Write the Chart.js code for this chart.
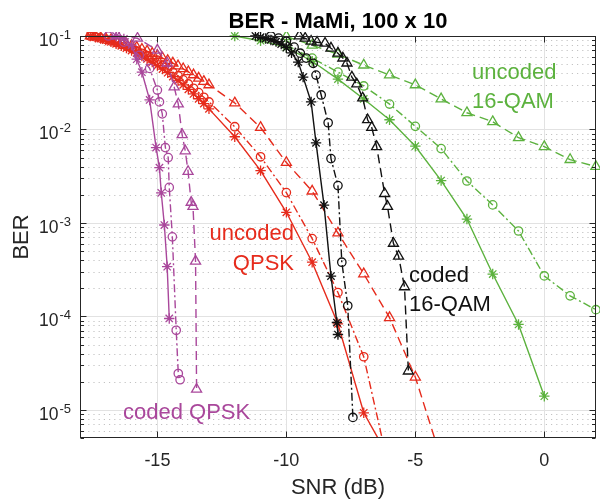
<!DOCTYPE html>
<html>
<head>
<meta charset="utf-8">
<script src="https://cdn.jsdelivr.net/npm/chart.js@4"></script>
<style>
html,body{margin:0;padding:0;background:#fff;}
canvas{display:block;}
</style>
</head>
<body>
<canvas id="c" width="603" height="499"></canvas>
<script>
// ---------- data ----------
// coded QPSK (purple)
const cqStarX = [-16.6, -16.3, -16.0, -15.8, -15.6, -15.3, -15.05, -14.92, -14.85, -14.73, -14.62, -14.54];
const cqStarY = [0.1, 0.093, 0.08, 0.0565, 0.041, 0.0207, 0.0064, 0.0039, 0.0021, 0.00095, 0.00034, 0.000095];
const cqCircX = [-16.9, -16.3, -15.7, -15.3, -15.0, -14.92, -14.81, -14.69, -14.58, -14.54, -14.42, -14.27, -14.19, -14.12];
const cqCircY = [0.1, 0.086, 0.062, 0.045, 0.0264, 0.0197, 0.0147, 0.0064, 0.005, 0.0024, 0.00071, 0.000071, 0.0000245, 0.000021];
const cqTriX = [-16.54, -15.77, -15.0, -14.62, -14.35, -14.19, -14.04, -13.92, -13.81, -13.69, -13.62, -13.52, -13.48];
const cqTriY = [0.1, 0.0945, 0.0705, 0.0513, 0.0285, 0.0187, 0.0088, 0.0059, 0.00355, 0.00166, 0.0015, 0.00039, 0.0000166];

// uncoded QPSK (red)
const uqX = [-17.6,-17.4,-17.2,-17.0,-16.8,-16.6,-16.4,-16.2,-16.0,-15.8,-15.6,-15.4,-15.2,-15.0,-14.8,-14.6,-14.4,-14.2,-14.0,-13.8,-13.6,-13.4,-13.2,-13,-12,-11,-10,-9,-8,-7,-6];
const uqTriX = [-17.6,-17.4,-17.2,-17.0,-16.8,-16.6,-16.4,-16.2,-16.0,-15.8,-15.6,-15.4,-15.2,-15.0,-14.8,-14.6,-14.4,-14.2,-14.0,-13.8,-13.6,-13.4,-13.2,-13,-12,-11,-10,-9,-8,-7,-6,-5,-4];
const uqStarY = [0.1,0.0971,0.0939,0.0904,0.0866,0.0826,0.0785,0.0742,0.0699,0.0655,0.0611,0.0568,0.0525,0.0483,0.0443,0.0405,0.0368,0.0333,0.0300,0.0269,0.0240,0.0213,0.0189,0.0166,0.00836,0.00363,0.0013,0.00038,0.000083,0.0000093,0.000003];
const uqCircY = [0.1,0.0977,0.0950,0.0919,0.0886,0.0851,0.0813,0.0774,0.0734,0.0692,0.0651,0.0609,0.0567,0.0526,0.0486,0.0447,0.0410,0.0374,0.0339,0.0307,0.0276,0.0248,0.0221,0.0197,0.0107,0.0051,0.00211,0.00068,0.00018,0.000037,0.0000022];
const uqTriY = [0.1,0.0981,0.0960,0.0936,0.0910,0.0882,0.0853,0.0821,0.0789,0.0756,0.0721,0.0687,0.0652,0.0617,0.0581,0.0546,0.0512,0.0479,0.0446,0.0414,0.0384,0.0354,0.0326,0.030,0.0192,0.0105,0.00443,0.00219,0.00078,0.000285,0.000097,0.0000224,0.000003];

// coded 16-QAM (black)
const c16StarX = [-11.2,-11.0,-10.8,-10.6,-10.4,-10.2,-10.0,-9.8,-9.54,-9.35,-9.04,-8.85,-8.54,-8.27,-8.04,-8.0];
const c16StarY = [0.1,0.097,0.094,0.091,0.087,0.082,0.075,0.066,0.0525,0.0363,0.0197,0.0072,0.00155,0.00027,0.000086,0.000064];
const c16CircX = [-10.6,-10.3,-10.0,-9.7,-9.46,-9.23,-8.96,-8.85,-8.65,-8.38,-8.27,-8.0,-7.85,-7.62,-7.42];
const c16CircY = [0.1,0.095,0.088,0.076,0.0655,0.058,0.051,0.0382,0.0234,0.0118,0.00488,0.00251,0.00038,0.00013,0.0000083];
const c16TriX = [-9.5,-9.27,-9.04,-8.81,-8.5,-8.27,-8.0,-7.81,-7.65,-7.46,-7.27,-7.04,-6.85,-6.69,-6.5,-6.19,-6.08,-5.85,-5.65,-5.42,-5.27];
const c16TriY = [0.1,0.0945,0.0878,0.0857,0.0836,0.074,0.0655,0.058,0.0513,0.0363,0.0306,0.0217,0.0127,0.0105,0.00654,0.00206,0.0015,0.000605,0.00044,0.000207,0.000026];

// uncoded 16-QAM (green)
const u16StarX = [-12,-11,-10,-9,-8,-7,-6,-5,-4,-3,-2,-1,0];
const u16StarY = [0.1,0.089,0.0757,0.0537,0.0346,0.0212,0.0127,0.00662,0.00284,0.0011,0.000284,0.000082,0.000014];
const u16CircX = [-10,-9,-8,-7,-6,-5,-4,-3,-2,-1,0,1,2];
const u16CircY = [0.08,0.058,0.0411,0.0292,0.0187,0.0108,0.00624,0.00281,0.00156,0.00082,0.000271,0.000166,0.000118];
const u16TriX = [-10,-9,-8,-7,-6,-5,-4,-3,-2,-1,0,1,2];
const u16TriY = [0.099,0.0796,0.0638,0.0488,0.0382,0.030,0.0212,0.0151,0.0121,0.00816,0.00655,0.00476,0.00401];

// axes
const xTicks = [-15, -10, -5, 0];
const xTickLabels = ['-15', '-10', '-5', '0'];
const yTickExps = [-5, -4, -3, -2, -1];
const xMin = -18, xMax = 2, yMin = 5e-6, yMax = 0.1;

// ---------- styles ----------
const PURPLE = '#A9479B', RED = '#E62B1C', BLACK = '#111111', GREEN = '#5CB23E';
const AXC = '#262626';
const FONT = '"Liberation Sans", Arial, Helvetica, sans-serif';
const DASH = [9, 5], DASHDOT = [8, 3, 2, 3];

function ds(xs, ys, color, marker, dash) {
  const r = marker === 'triangle' ? 5.8 : (marker === 'star' ? 5.2 : 4.2);
  return {
    data: xs.map((v, i) => ({x: v, y: ys[i]})),
    borderColor: color,
    borderWidth: 1.4,
    borderDash: dash,
    backgroundColor: 'transparent',
    pointStyle: marker,
    pointRadius: r,
    pointBorderColor: color,
    pointBackgroundColor: 'rgba(0,0,0,0)',
    pointBorderWidth: 1.3,
    pointHoverRadius: r,
    tension: 0,
    fill: false,
    clip: {left: 4, top: 4, right: 4, bottom: 0}
  };
}

const datasets = [
  ds(cqStarX, cqStarY, PURPLE, 'star', []),
  ds(cqCircX, cqCircY, PURPLE, 'circle', DASHDOT),
  ds(cqTriX, cqTriY, PURPLE, 'triangle', DASH),
  ds(c16StarX, c16StarY, BLACK, 'star', []),
  ds(c16CircX, c16CircY, BLACK, 'circle', DASHDOT),
  ds(c16TriX, c16TriY, BLACK, 'triangle', DASH),
  ds(uqX, uqStarY, RED, 'star', []),
  ds(uqX, uqCircY, RED, 'circle', DASHDOT),
  ds(uqTriX, uqTriY, RED, 'triangle', DASH),
  ds(u16StarX, u16StarY, GREEN, 'star', []),
  ds(u16CircX, u16CircY, GREEN, 'circle', DASHDOT),
  ds(u16TriX, u16TriY, GREEN, 'triangle', DASH)
];

const annotations = [
  {lines: ['uncoded', '16-QAM'], color: GREEN, x: 472, y: [79, 108], align: 'left'},
  {lines: ['uncoded', 'QPSK'], color: RED, x: 294, y: [240, 270], align: 'right'},
  {lines: ['coded', '16-QAM'], color: BLACK, x: 409, y: [282, 311], align: 'left'},
  {lines: ['coded QPSK'], color: PURPLE, x: 123, y: [419], align: 'left'}
];

const matlabAxes = {
  id: 'matlabAxes',
  beforeDatasetsDraw(chart) {
    const {ctx, chartArea: a, scales: {x, y}} = chart;
    ctx.save();
    ctx.lineWidth = 1;
    // minor dotted grid (horizontal)
    ctx.strokeStyle = 'rgba(38,38,38,0.28)';
    ctx.setLineDash([1.2, 4]);
    for (let e = -6; e <= -1; e++) {
      for (let k = 2; k <= 9; k++) {
        const v = k * Math.pow(10, e);
        if (v < yMin || v > yMax) continue;
        const py = Math.round(y.getPixelForValue(v)) + 0.5;
        ctx.beginPath(); ctx.moveTo(a.left + 3, py); ctx.lineTo(a.right, py); ctx.stroke();
      }
    }
    // major grid
    ctx.setLineDash([]);
    ctx.strokeStyle = '#e2e2e2';
    yTickExps.forEach(e => {
      const py = Math.round(y.getPixelForValue(Math.pow(10, e))) + 0.5;
      ctx.beginPath(); ctx.moveTo(a.left, py); ctx.lineTo(a.right, py); ctx.stroke();
    });
    xTicks.forEach(v => {
      const px = Math.round(x.getPixelForValue(v)) + 0.5;
      ctx.beginPath(); ctx.moveTo(px, a.top); ctx.lineTo(px, a.bottom); ctx.stroke();
    });
    ctx.restore();
  },
  afterDatasetsDraw(chart) {
    const {ctx, chartArea: a, scales: {x, y}} = chart;
    ctx.save();
    ctx.setLineDash([]);
    ctx.strokeStyle = AXC;
    ctx.lineWidth = 1;
    const L = Math.round(a.left) + 0.5, R = Math.round(a.right) - 0.5;
    const T = Math.round(a.top) + 0.5, B = Math.round(a.bottom) - 0.5;
    ctx.strokeRect(L, T, R - L, B - T);
    // x ticks
    xTicks.forEach(v => {
      const px = Math.round(x.getPixelForValue(v)) + 0.5;
      ctx.beginPath();
      ctx.moveTo(px, B); ctx.lineTo(px, B - 6);
      ctx.moveTo(px, T); ctx.lineTo(px, T + 6);
      ctx.stroke();
    });
    // y ticks
    for (let e = -6; e <= -1; e++) {
      for (let k = 1; k <= 9; k++) {
        const v = k * Math.pow(10, e);
        if (v < yMin * 0.999 || v > yMax * 1.001) continue;
        const len = k === 1 ? 6 : 3.5;
        const py = Math.round(y.getPixelForValue(v)) + 0.5;
        ctx.beginPath();
        ctx.moveTo(L, py); ctx.lineTo(L + len, py);
        ctx.moveTo(R, py); ctx.lineTo(R - len, py);
        ctx.stroke();
      }
    }
    // tick labels
    ctx.fillStyle = AXC;
    ctx.textBaseline = 'alphabetic';
    ctx.font = '18px ' + FONT;
    ctx.textAlign = 'center';
    xTicks.forEach((v, i) => {
      ctx.fillText(xTickLabels[i], x.getPixelForValue(v), 466);
    });
    yTickExps.forEach(e => {
      const py = y.getPixelForValue(Math.pow(10, e));
      ctx.font = '17.5px ' + FONT;
      ctx.textAlign = 'right';
      ctx.fillText('10', 58.5, py + 10);
      ctx.font = '13px ' + FONT;
      ctx.textAlign = 'left';
      ctx.fillText('-' + Math.abs(e), 59.5, py + 3);
    });
    // axis labels and title
    ctx.font = '22px ' + FONT;
    ctx.textAlign = 'center';
    ctx.fillText('SNR (dB)', (a.left + a.right) / 2, 494);
    ctx.save();
    ctx.translate(28, (a.top + a.bottom) / 2);
    ctx.rotate(-Math.PI / 2);
    ctx.fillText('BER', 0, 0);
    ctx.restore();
    ctx.font = 'bold 22px ' + FONT;
    ctx.fillStyle = '#000';
    ctx.fillText('BER - MaMi, 100 x 10', (a.left + a.right) / 2, 28);
    // annotations
    ctx.font = '22px ' + FONT;
    annotations.forEach(an => {
      ctx.fillStyle = an.color;
      ctx.textAlign = an.align;
      an.lines.forEach((t, i) => ctx.fillText(t, an.x, an.y[i]));
    });
    ctx.restore();
  }
};

new Chart(document.getElementById('c'), {
  type: 'line',
  data: {datasets},
  options: {
    responsive: false,
    devicePixelRatio: 1,
    animation: false,
    events: [],
    layout: {padding: {left: 80, right: 3, top: 36, bottom: 61}},
    plugins: {legend: {display: false}, tooltip: {enabled: false}, title: {display: false}},
    scales: {
      x: {
        type: 'linear', min: xMin, max: xMax,
        grid: {display: false}, border: {display: false},
        ticks: {display: false},
        afterFit: s => { s.height = 0; }
      },
      y: {
        type: 'logarithmic', min: yMin, max: yMax,
        grid: {display: false}, border: {display: false},
        ticks: {display: false},
        afterFit: s => { s.width = 0; }
      }
    }
  },
  plugins: [matlabAxes]
});
</script>
</body>
</html>
